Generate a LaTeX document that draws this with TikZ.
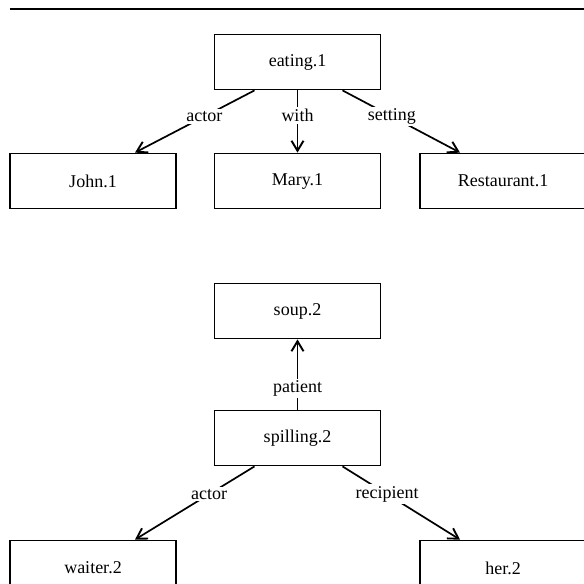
\documentclass[tikz,border=0pt]{standalone}
\usepackage{fontspec}
\setmainfont{Liberation Serif}
\usetikzlibrary{arrows.meta}
\begin{document}
\begin{tikzpicture}[x=1pt,y=-1pt,
  frame/.style={draw,line width=1.8pt,minimum width=166pt,minimum height=55pt,inner sep=0pt,font=\fontsize{18}{20}\selectfont},
  rel/.style={line width=1.7pt,-{Straight Barb[length=10pt,width=12pt,line width=1.9pt]}},
  lbl/.style={fill=white,inner sep=2pt,font=\fontsize{18}{20}\selectfont}]
\useasboundingbox (0,0) rectangle (584,584);
% heading rule
\coordinate (ruleL) at (10,9);
\coordinate (ruleR) at (590,9);
\draw[line width=2.4pt] (ruleL) -- (ruleR);
% first structure
\node[frame] (eat) at (297.5,62) {eating.1};
\node[frame] (john) at (93,181) {John.1};
\node[frame] (mary) at (297.5,181) {Mary.1};
\node[frame] (rest) at (503,181) {Restaurant.1};
\draw[rel] ([xshift=-43pt]eat.south) -- node[lbl,pos=0.42] {actor} ([xshift=42pt]john.north);
\draw[rel] (eat.south) -- node[lbl,pos=0.4] {with} (mary.north);
\draw[rel] ([xshift=45pt]eat.south) -- node[lbl,pos=0.42] {setting} ([xshift=-43pt]rest.north);
% second structure
\node[frame] (soup) at (297.5,311) {soup.2};
\node[frame] (spill) at (297.5,438) {spilling.2};
\node[frame] (waiter) at (93,568) {waiter.2};
\node[frame] (her) at (503,568) {her.2};
\draw[rel] (spill.north) -- node[lbl,pos=0.3] {patient} (soup.south);
\draw[rel] ([xshift=-43pt]spill.south) -- node[lbl,pos=0.38] {actor} ([xshift=42pt]waiter.north);
\draw[rel] ([xshift=45pt]spill.south) -- node[lbl,pos=0.38] {recipient} ([xshift=-43pt]her.north);
\end{tikzpicture}
\end{document}
